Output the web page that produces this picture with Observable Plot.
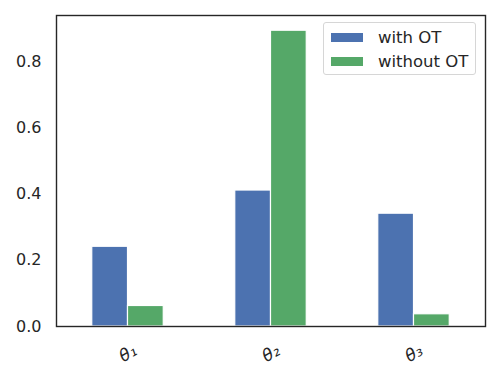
<!DOCTYPE html>
<html>
<head>
<meta charset="utf-8">
<script src="https://cdn.jsdelivr.net/npm/d3@7"></script>
<script src="https://cdn.jsdelivr.net/npm/@observablehq/plot@0.6"></script>
<style>
  body { margin: 0; background: #fff; }
  #wrap { position: relative; width: 498px; height: 381px; font-family: "DejaVu Sans", sans-serif; }
  .legend { position: absolute; left: 323px; top: 22px; width: 153px; height: 53px; border: 1px solid #d6d6d6; border-radius: 3px; background: rgba(255,255,255,0.85); box-sizing: border-box; }
  .item { position: absolute; left: 7px; height: 20px; display: flex; align-items: center; font-size: 16.5px; color: #262626; }
  .sw { width: 32px; height: 9px; margin-right: 15px; }
</style>
</head>
<body>
<div id="wrap"></div>
<script>
const categories = ["θ₁", "θ₂", "θ₃"];
const series = ["with OT", "without OT"];
const withOT = [0.241, 0.411, 0.341];
const withoutOT = [0.062, 0.894, 0.037];
const colors = ["#4c72b0", "#55a868"];
const yTicks = [0, 0.2, 0.4, 0.6, 0.8];

const barWidth = 0.25;
const data = [];
categories.forEach((c, i) => {
  data.push({i, s: series[0], x1: i - barWidth, x2: i, v: withOT[i]});
  data.push({i, s: series[1], x1: i, x2: i + barWidth, v: withoutOT[i]});
});

const chart = Plot.plot({
  width: 498,
  height: 381,
  marginLeft: 56,
  marginRight: 13,
  marginTop: 15,
  marginBottom: 55,
  style: {fontFamily: "DejaVu Sans, sans-serif", fontSize: "16px", color: "#262626", background: "white"},
  x: {domain: [-0.5, categories.length - 0.5]},
  y: {domain: [0, 0.94]},
  color: {domain: series, range: colors},
  marks: [
    Plot.rectY(data, {x1: "x1", x2: "x2", y1: 0, y2: "v", fill: "s", stroke: "white", strokeWidth: 1.2}),
    Plot.axisY({ticks: yTicks, tickFormat: d3.format(".1f"), tickSize: 0, tickPadding: 15, label: null, fontSize: 16}),
    Plot.axisX({ticks: categories.map((c, i) => i), tickFormat: i => categories[i], tickSize: 0, tickRotate: -30, textAnchor: "middle", tickPadding: 27, label: null, fontSize: 17, fontStyle: "italic"}),
    Plot.frame({stroke: "#262626", strokeWidth: 1.4})
  ]
});

const wrap = document.getElementById("wrap");
wrap.appendChild(chart);
const leg = document.createElement("div");
leg.className = "legend";
series.forEach((s, k) => {
  const it = document.createElement("div");
  it.className = "item";
  it.style.top = (4 + k * 24) + "px";
  const sw = document.createElement("span");
  sw.className = "sw";
  sw.style.background = colors[k];
  it.appendChild(sw);
  const t = document.createElement("span");
  t.textContent = s;
  it.appendChild(t);
  leg.appendChild(it);
});
wrap.appendChild(leg);
</script>
</body>
</html>
